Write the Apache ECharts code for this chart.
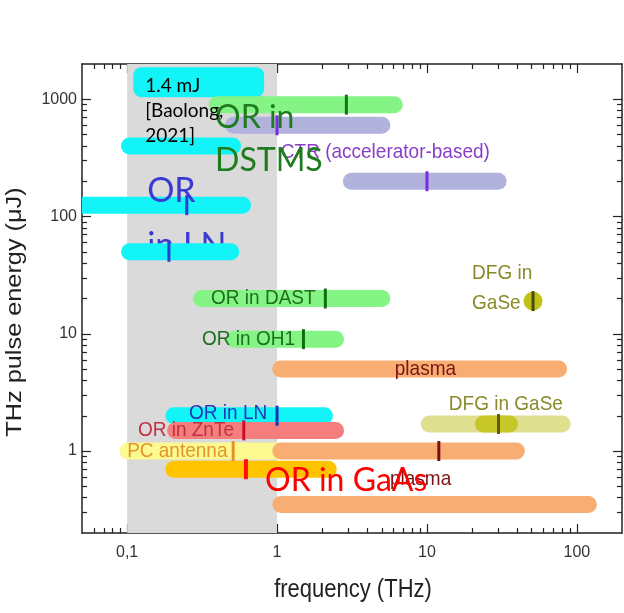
<!DOCTYPE html>
<html>
<head>
<meta charset="utf-8">
<script src="https://cdn.jsdelivr.net/npm/echarts@6/dist/echarts.min.js"></script>
<style>
  html, body { margin: 0; padding: 0; background: #fff; }
  #chart { width: 624px; height: 613px; }
</style>
</head>
<body>
<div id="chart"></div>
<script>
// THz sources: pulse energy (uJ) against frequency coverage (THz), log-log.

// ---- data ----
const barName = ['OR in LN (1.4 mJ)', 'OR in DSTMS', 'CTR', 'CTR', 'OR in LN', 'OR in LN', 'OR in LN',
  'OR in DAST', 'OR in OH1', 'plasma', 'OR in LN', 'OR in ZnTe', 'PC antenna', 'plasma',
  'OR in GaAs', 'plasma', 'DFG in GaSe', 'DFG in GaSe (core)'];
const barFreqLow  = [0.11, 0.35, 0.45, 2.75, 0.091, 0.03, 0.091, 0.275, 0.46, 0.93, 0.18, 0.185, 0.089, 0.93, 0.18, 0.93, 9.1, 20.9];
const barFreqHigh = [0.82, 6.9, 5.7, 34, 0.575, 0.67, 0.56, 5.7, 2.8, 86, 2.36, 2.8, 1.2, 45, 2.5, 136, 91, 40.4];
const barEnergy   = [1400, 900, 600, 200, 400, 125, 50, 20, 9, 5, 2, 1.5, 1, 1, 0.7, 0.35, 1.7, 1.7];
const barPeak     = [null, 2.9, 1, 10, null, 0.25, 0.19, 2.1, 1.5, null, 1, 0.6, 0.51, 12, 0.62, null, null, 30];

const pointName = ['DFG in GaSe'];
const pointFreq = [51];
const pointEnergy = [19];

const xMajorTicks = [0.1, 1, 10, 100];
const xMinorTicks = [0.06, 0.07, 0.08, 0.09, 0.2, 0.3, 0.4, 0.5, 0.6, 0.7, 0.8, 0.9,
  2, 3, 4, 5, 6, 7, 8, 9, 20, 30, 40, 50, 60, 70, 80, 90];
const yMajorTicks = [1, 10, 100, 1000];
const yMinorTicks = [0.3, 0.4, 0.5, 0.6, 0.7, 0.8, 0.9, 2, 3, 4, 5, 6, 7, 8, 9,
  20, 30, 40, 50, 60, 70, 80, 90, 200, 300, 400, 500, 600, 700, 800, 900];

const shadedBand = [0.1, 1];

// ---- look ----
const CYAN = '#12f4f7', GREEN = '#84f584', LAV = '#b1b3dc', ORANGE = '#f8ae72',
      SALMON = '#f47d7d', PALE = '#fbf98f', GOLD = '#ffc300', OLIVE_L = '#dfdf90', OLIVE = '#c6c626';
const barLook = [
  { fill: CYAN, h: 30, r: 8 },
  { fill: GREEN, tick: '#0d7a0d' },
  { fill: LAV, tick: '#7b2be6' },
  { fill: LAV, tick: '#7b2be6' },
  { fill: CYAN },
  { fill: CYAN, tick: '#2a3fd6' },
  { fill: CYAN, tick: '#2a3fd6' },
  { fill: GREEN, tick: '#0d6e0d' },
  { fill: GREEN, tick: '#0d6e0d' },
  { fill: ORANGE },
  { fill: CYAN, tick: '#1234b4' },
  { fill: SALMON, tick: '#c8102a' },
  { fill: PALE, tick: '#e8912a' },
  { fill: ORANGE, tick: '#7c0f0f' },
  { fill: GOLD, tick: '#ff1010', tw: 4 },
  { fill: ORANGE },
  { fill: OLIVE_L },
  { fill: OLIVE, tick: '#5c5c14' }
];
const BAR_H = 17;
const ARIAL = '"Liberation Sans", Arial, sans-serif';
const CAL = 'Lato, "Open Sans", sans-serif';

// text placed at [frequency, energy]; left-aligned, vertically centred
const smallLabels = [
  { text: 'OR in DAST', at: [0.363, 20], color: '#1d6f1d' },
  { text: 'OR in OH1', at: [0.316, 9], color: '#1d6f1d' },
  { text: 'plasma', at: [6.1, 5], color: '#7a1414' },
  { text: 'OR in LN', at: [0.259, 2.1], color: '#1f3ab8' },
  { text: 'OR in ZnTe', at: [0.118, 1.5], color: '#c23040' },
  { text: 'PC antenna', at: [0.1, 1], color: '#e0962a' },
  { text: 'plasma', at: [5.67, 0.576], color: '#7a1414' },
  { text: 'DFG in GaSe', at: [14, 2.52], color: '#8a8a2a' },
  { text: 'DFG in\nGaSe', at: [20, 24.5], color: '#8a8a2a', lh: 27 },
  { text: 'CTR (accelerator-based)', at: [1.06, 352], color: '#8a3dc8' }
];
const underLabels = [
  { text: 'in LN', at: [0.136, 56], color: '#3a3ad2', size: 34 }
];
const overLabels = [
  { text: 'OR', at: [0.136, 164], color: '#3a3ad2', size: 34 },
  { text: 'OR in', at: [0.386, 700], color: '#1e7b1e', size: 32 },
  { text: 'DSTMS', at: [0.386, 300], color: '#1e7b1e', size: 32 },
  { text: 'OR in GaAs', at: [0.832, 0.554], color: '#ff0000', size: 32 },
  { text: '1.4 mJ\n[Baolong,\n2021]', at: [0.132, 789], color: '#000000', size: 19, lh: 25 }
];

function textSeries(list, z, family, defSize, scaleY) {
  return {
    type: 'custom', z: z, silent: true, clip: false,
    encode: { x: 0, y: 1 },
    data: list.map(l => l.at),
    renderItem(params, api) {
      const l = list[params.dataIndex];
      const p = api.coord([api.value(0), api.value(1)]);
      const size = l.size || defSize;
      return {
        type: 'text', x: p[0], y: p[1], scaleY: scaleY,
        style: {
          text: l.text, fill: l.color, fontSize: size, fontFamily: family,
          align: 'left', verticalAlign: 'middle', lineHeight: l.lh || size
        }
      };
    }
  };
}

const tickData = [];
barPeak.forEach((f, i) => { if (f != null) tickData.push([f, barEnergy[i], i]); });

function axisBase(pos, values, len, showLine) {
  return {
    type: 'log', logBase: 10, position: pos,
    axisLine: { show: showLine, lineStyle: { color: '#222', width: 1.5 } },
    axisTick: { show: true, inside: true, length: len, customValues: values, lineStyle: { color: '#222', width: 1.2 } },
    axisLabel: { show: false },
    splitLine: { show: false },
    minorTick: { show: false }
  };
}
function fmtLabel(v) {
  const s = String(Math.round(v * 1000) / 1000);
  return s.replace('.', ',');
}

const xAxes = [
  Object.assign(axisBase('bottom', xMajorTicks, 9, true), {
    axisLabel: { show: true, customValues: xMajorTicks, formatter: fmtLabel, margin: 12,
      color: '#333', fontSize: 16, fontFamily: ARIAL }
  }),
  axisBase('bottom', xMinorTicks, 5, false),
  axisBase('top', xMajorTicks, 9, true),
  axisBase('top', xMinorTicks, 5, false)
].map(a => Object.assign(a, { min: 0.05, max: 200 }));

const yAxes = [
  Object.assign(axisBase('left', yMajorTicks, 9, true), {
    axisLabel: { show: true, customValues: yMajorTicks, formatter: fmtLabel, margin: 5,
      color: '#333', fontSize: 16, fontFamily: ARIAL }
  }),
  axisBase('left', yMinorTicks, 5, false),
  axisBase('right', yMajorTicks, 9, true),
  axisBase('right', yMinorTicks, 5, false)
].map(a => Object.assign(a, { min: 0.2, max: 2000 }));

const chart = echarts.init(document.getElementById('chart'));
chart.setOption({
  animation: false,
  backgroundColor: '#ffffff',
  grid: { left: 82, right: 2, top: 64, bottom: 80, containLabel: false },
  xAxis: xAxes,
  yAxis: yAxes,
  graphic: [
    { type: 'text', x: 353, y: 590, scaleY: 1.15, z: 10,
      style: { text: 'frequency (THz)', fill: '#222', fontSize: 22, fontFamily: ARIAL,
        align: 'center', verticalAlign: 'middle' } },
    { type: 'text', x: 15, y: 312, rotation: Math.PI / 2, scaleX: 1.15, z: 10,
      style: { text: 'THz pulse energy (\u03bcJ)', fill: '#222', fontSize: 22, fontFamily: ARIAL,
        align: 'center', verticalAlign: 'middle' } }
  ],
  series: [
    {
      // shaded 0.1-1 THz window
      type: 'custom', z: 1, silent: true,
      encode: { x: [0, 1] },
      data: [shadedBand],
      renderItem(params, api) {
        const cs = params.coordSys;
        const a = api.coord([api.value(0), 1]);
        const b = api.coord([api.value(1), 1]);
        return { type: 'rect', shape: { x: a[0], y: cs.y, width: b[0] - a[0], height: cs.height },
          style: { fill: '#dadada' } };
      }
    },
    textSeries(underLabels, 2, CAL, 34, 1),
    {
      // frequency coverage bars
      type: 'custom', name: 'coverage', z: 3, silent: true, clip: true,
      encode: { x: [0, 1], y: 2 },
      data: barName.map((n, i) => [barFreqLow[i], barFreqHigh[i], barEnergy[i]]),
      renderItem(params, api) {
        const look = barLook[params.dataIndex];
        const h = look.h || BAR_H;
        const p0 = api.coord([api.value(0), api.value(2)]);
        const p1 = api.coord([api.value(1), api.value(2)]);
        return { type: 'rect',
          shape: { x: p0[0], y: p0[1] - h / 2, width: p1[0] - p0[0], height: h, r: look.r != null ? look.r : h / 2 },
          style: { fill: look.fill } };
      }
    },
    {
      type: 'scatter', name: pointName[0], z: 3, silent: true,
      data: pointFreq.map((f, i) => [f, pointEnergy[i]]),
      symbol: 'circle', symbolSize: 19,
      itemStyle: { color: '#c2c21a', opacity: 1 }
    },
    {
      // peak-frequency marks
      type: 'custom', z: 4, silent: true, clip: true,
      encode: { x: 0, y: 1 },
      data: tickData.concat(pointFreq.map((f, i) => [f, pointEnergy[i], -1])),
      renderItem(params, api) {
        const idx = api.value(2);
        const look = idx >= 0 ? barLook[idx] : { tick: '#4a4a10' };
        const w = look.tw || 3;
        const p = api.coord([api.value(0), api.value(1)]);
        return { type: 'rect', shape: { x: p[0] - w / 2, y: p[1] - 10, width: w, height: 20 },
          style: { fill: look.tick } };
      }
    },
    textSeries(smallLabels, 5, ARIAL, 19, 1.1),
    textSeries(overLabels, 6, CAL, 34, 1)
  ]
});
</script>
</body>
</html>
